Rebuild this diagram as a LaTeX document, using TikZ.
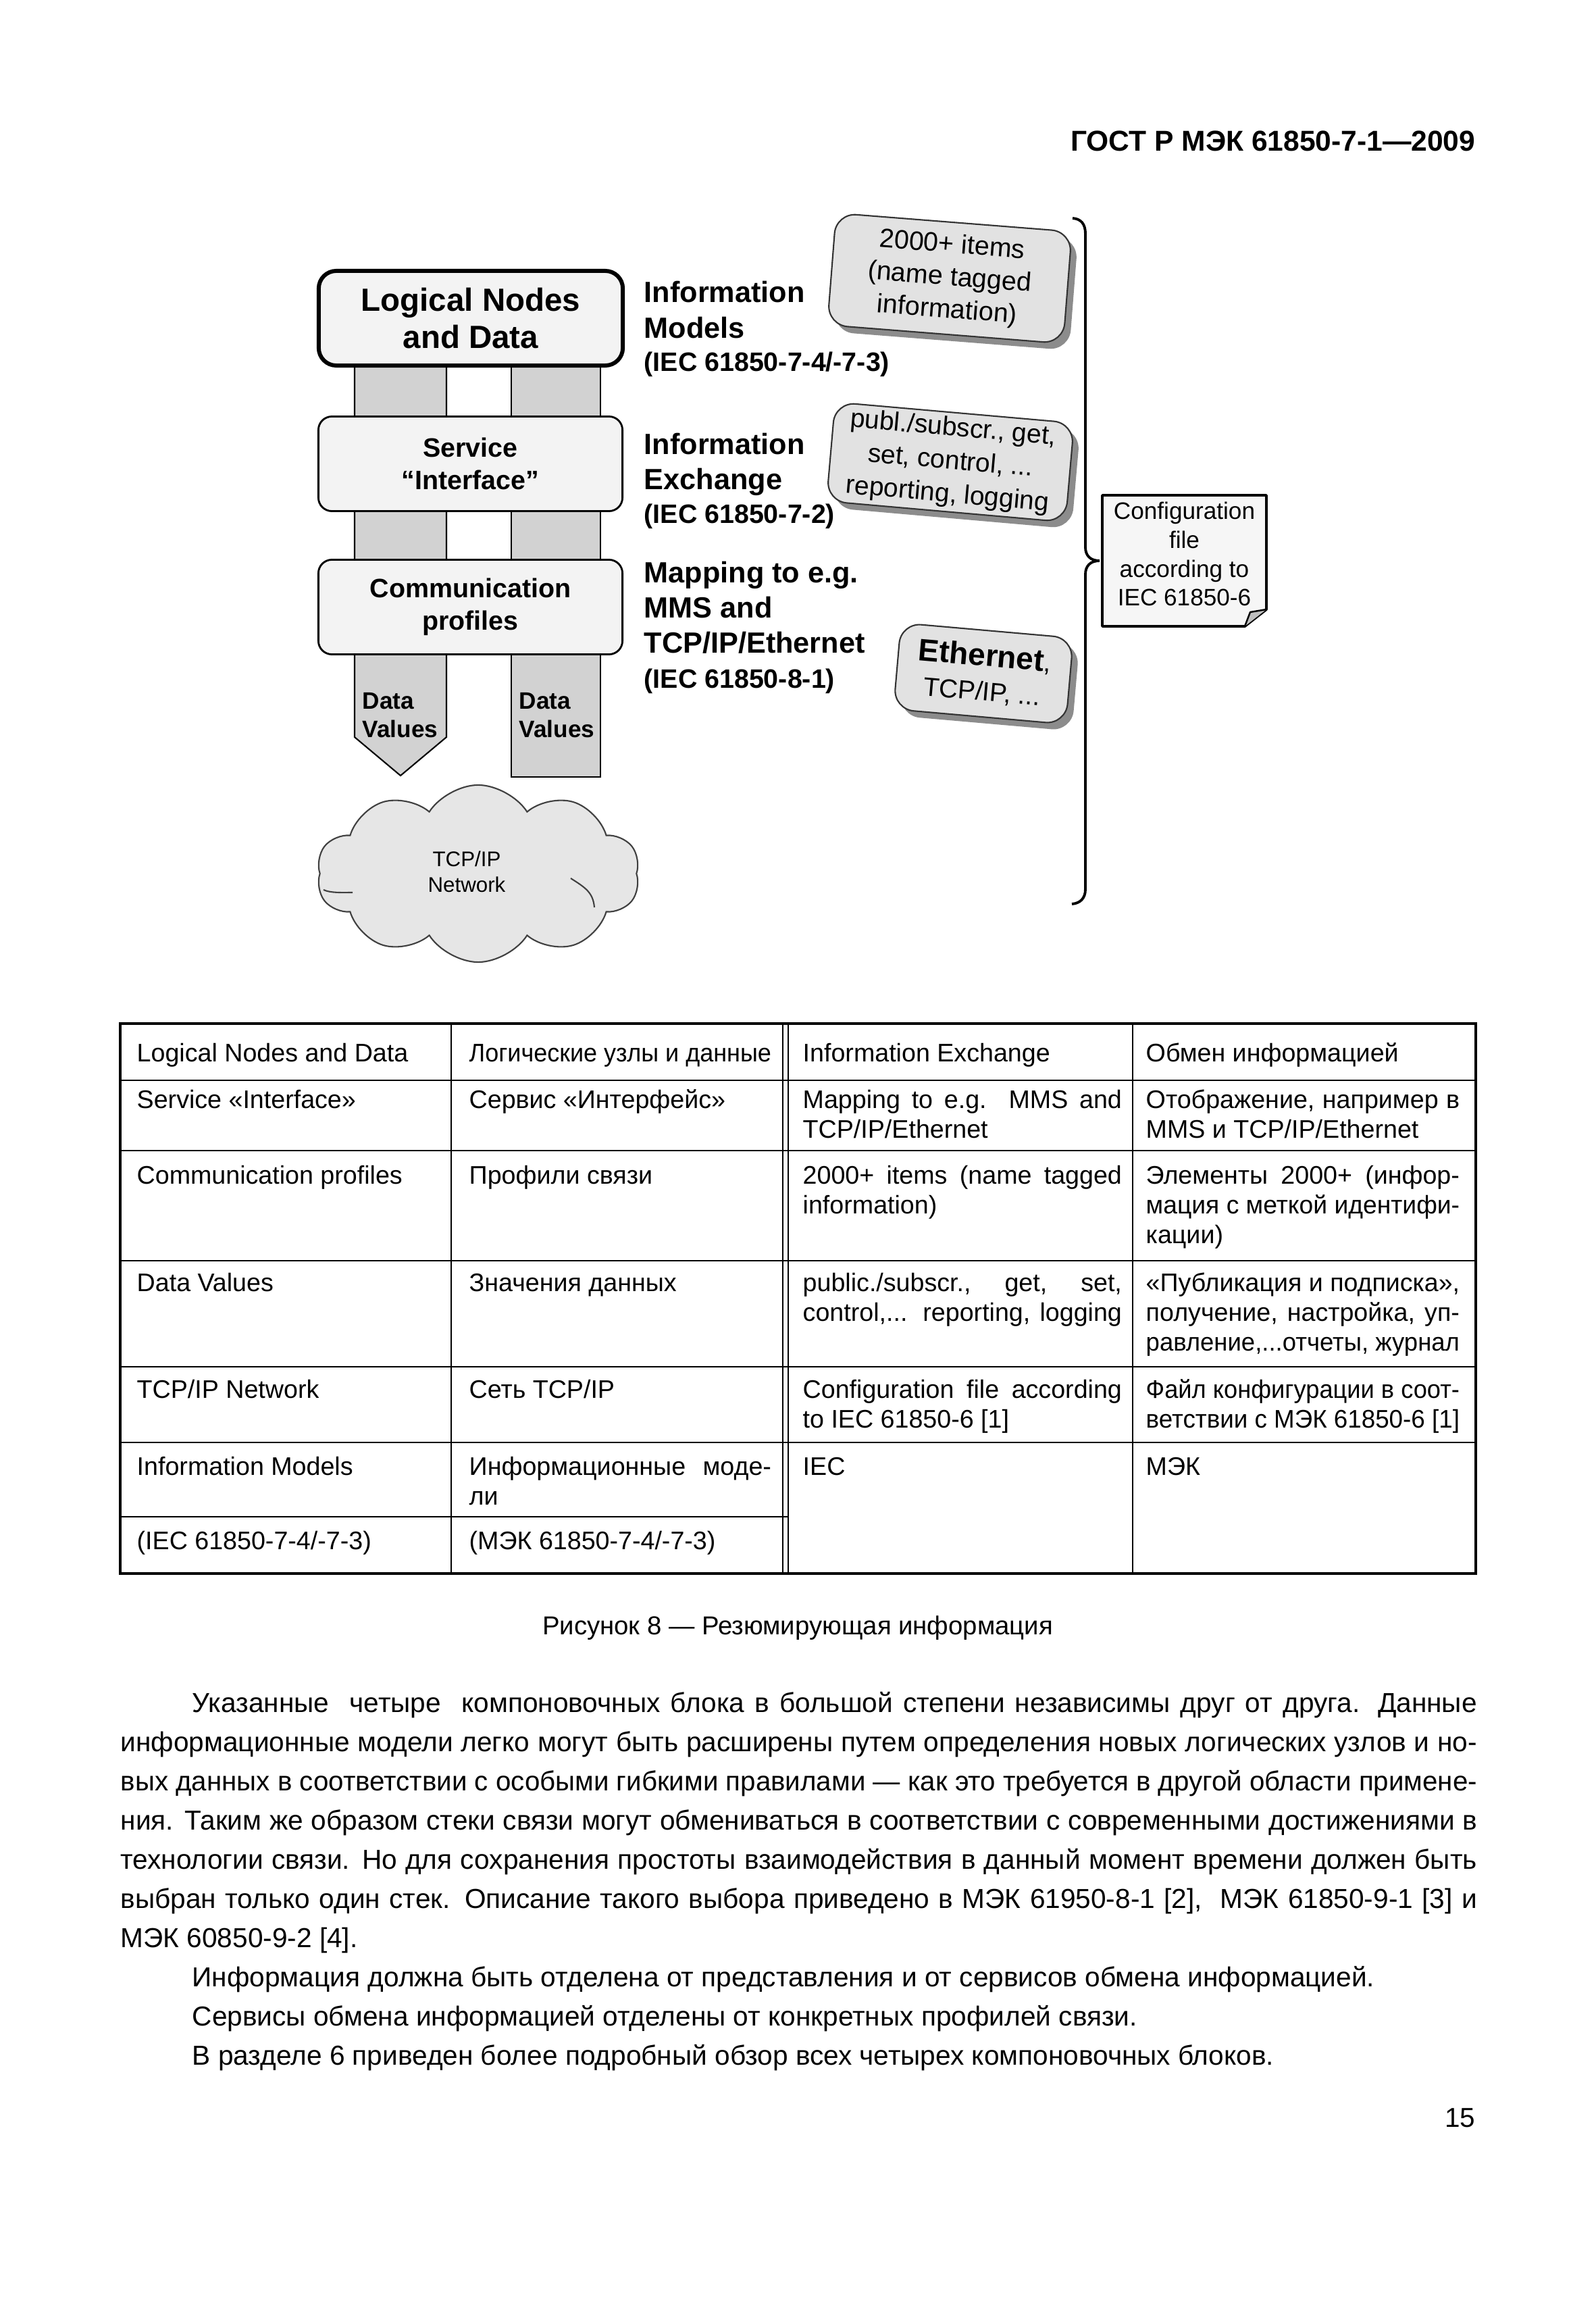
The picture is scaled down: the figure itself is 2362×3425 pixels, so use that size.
\documentclass[tikz,border=0pt]{standalone}
\usepackage{fontspec}
\usepackage{graphicx}
\setmainfont{Liberation Sans}
\usetikzlibrary{shapes.symbols,shadows,calc}

\definecolor{barc}{HTML}{D2D2D2}
\definecolor{boxc}{HTML}{F3F3F3}
\definecolor{tiltc}{HTML}{E2E2E2}
\definecolor{cloudc}{HTML}{E6E6E6}
\definecolor{cfgc}{HTML}{F6F6F6}
\definecolor{foldc}{HTML}{BEBEBE}

\newcommand{\fs}[2]{\fontsize{#1pt}{#2pt}\selectfont}
\newsavebox{\jlbox}
\newcommand{\jlw}[2]{\sbox{\jlbox}{#2}\ifdim\wd\jlbox>#1\relax\resizebox{#1}{\height}{\usebox{\jlbox}}\else\makebox[#1][s]{#2}\fi}
\newcommand{\jl}[1]{\jlw{\linewidth}{#1}}
\newcommand{\fitl}[1]{\sbox{\jlbox}{#1}\ifdim\wd\jlbox>\linewidth\relax\resizebox{\linewidth}{\height}{\usebox{\jlbox}}\else\usebox{\jlbox}\fi}

\begin{document}
\begin{tikzpicture}[x=0.01cm,y=-0.01cm,
  bar/.style={fill=barc,draw=black,line width=0.6pt},
  layer/.style={draw=black,line width=0.8pt,fill=boxc,rounded corners=0.2cm,minimum width=4.5cm,minimum height=1.4cm,align=center,inner sep=0pt,font=\bfseries\fs{11.2}{13.7}},
  tilted/.style={draw=black!80,line width=0.6pt,fill=tiltc,rounded corners=0.3cm,align=center,inner sep=1.5pt,drop shadow={shadow xshift=0.09cm,shadow yshift=-0.1cm,fill=black!45,opacity=1}},
  lbl/.style={anchor=base west,inner sep=0pt},
  cell/.style={anchor=base west,inner sep=0pt,font=\fs{10.7}{12.6}},
  tline/.style={line width=0.6pt},
  txt/.style={inner sep=0pt}
]
\fill[white] (0,0) rectangle (2362,3425);
\useasboundingbox (0,0) rectangle (2362,3425);

% header
\node[txt,anchor=base east,font=\bfseries\fs{12.1}{14}] (hdr) at (2185,224) {ГОСТ Р МЭК 61850-7-1—2009};

% bars
\draw[bar] (525,540) -- (661,540) -- (661,1091) -- (593,1148) -- (525,1091) -- cycle;
\draw[bar] (757,540) rectangle (889,1150);

% layers
\node[layer,line width=1.7pt,rounded corners=0.26cm,font=\bfseries\fs{13.5}{15.9}] (ln) at (697,471) {Logical Nodes\\and Data};
\node[layer] (si) at (696.5,686.5) {Service\\“Interface”};
\node[layer] (cp) at (696.5,898.5) {Communication\\profiles};

\node[lbl,font=\bfseries\fs{10}{12.2}] (dv1) at (536,1049) {\parbox[t]{3cm}{Data\\Values}};
\node[lbl,font=\bfseries\fs{10}{12.2}] (dv2) at (768,1049) {\parbox[t]{3cm}{Data\\Values}};

% tilted boxes
\node[tilted,rotate=-4.5,minimum width=3.5cm,minimum height=1.66cm,font=\fs{11.2}{13.7}] (items) at (1406,412) {2000+ items\\(name tagged\\information)};
\node[tilted,rotate=-5,minimum width=3.55cm,minimum height=1.47cm,font=\fs{11.1}{14}] (svc) at (1407,684) {publ./subscr., get,\\set, control, ...\\reporting, logging};
\node[tilted,rotate=-5,minimum width=2.56cm,minimum height=1.28cm,font=\fs{11}{14.5}] (eth) at (1456,997) {{\bfseries\fs{13.1}{14.5}Ethernet},\\TCP/IP, ...};

% labels
\node[lbl] (lim) at (953,448) {\parbox[t]{7cm}{\bfseries\fs{12.3}{14.8}Information\\Models\par\fs{11.2}{14.2}(IEC 61850-7-4/-7-3)}};
\node[lbl] (lie) at (953,673) {\parbox[t]{7cm}{\bfseries\fs{12.3}{14.6}Information\\Exchange\par\fs{11.2}{14.2}(IEC 61850-7-2)}};
\node[lbl] (lmap) at (953,863) {\parbox[t]{7cm}{\bfseries\fs{12.3}{14.7}Mapping to e.g.\\MMS and\\TCP/IP/Ethernet\par\fs{11.2}{14.8}(IEC 61850-8-1)}};

% cloud
\node[cloud,cloud puffs=10,cloud puff arc=115,cloud ignores aspect,minimum width=4.78cm,minimum height=2.62cm,draw=black!75,line width=0.6pt,fill=cloudc,inner sep=0pt] (net) at (708,1293) {};
\draw[black!75,line width=0.6pt] ($(net.center)+(137,7)$) .. controls +(22,14) and +(-2,-22) .. ($(net.center)+(172,50)$);
\draw[black!75,line width=0.6pt] ($(net.center)+(-229,24)$) .. controls +(10,5) and +(-14,0) .. ($(net.center)+(-186,28)$);
\node[txt,align=center,font=\fs{8.9}{10.8}] (nett) at ($(net.center)+(-17,-3)$) {TCP/IP\\Network};

% configuration file
\coordinate (cNW) at (1632,733);
\coordinate (cNE) at (1875,733);
\coordinate (cF1) at (1875,902);
\coordinate (cF2) at (1843,927);
\coordinate (cSW) at (1632,927);
\coordinate (cF3) at (1851,906);
\draw[line width=1.1pt,fill=cfgc,line join=round] (cNW) -- (cNE) -- (cF1) -- (cF2) -- (cSW) -- cycle;
\draw[line width=0.7pt,fill=foldc,line join=round] (cF1) -- (cF3) -- (cF2);
\node[txt,align=center,font=\fs{10}{12.2}] (cfg) at (1753.5,820) {Configuration\\file\\according to\\IEC 61850-6};

% brace
\coordinate (btip) at ($(cNW)!0.5!(cSW)+(-4,0)$);
\draw[line width=1.1pt] (1588,323) .. controls (1601,324) and (1607,332) .. (1607,346)
  -- (1607,810) .. controls (1607,822) and (1614,830) .. (btip)
  .. controls (1614,830) and (1607,838) .. (1607,850)
  -- (1607,1316) .. controls (1607,1330) and (1599,1337) .. (1587,1338);

% table
\draw[line width=0.9pt] (178,1515) rectangle (2185,2329);
\foreach \x in {668,1159,1167,1677} \draw[tline] (\x,1515) -- (\x,2329);
\foreach \y in {1599,1703,1866,2023,2135} \draw[tline] (178,\y) -- (2185,\y);
\draw[tline] (178,2245) -- (1167,2245);

\node[cell] (a1) at (202,1571) {\parbox[t]{4.46cm}{Logical Nodes and Data}};
\node[cell] (b1) at (694,1571) {\parbox[t]{4.47cm}{\fitl{Логические узлы и данные}}};
\node[cell] (c1) at (1188,1571) {\parbox[t]{4.72cm}{Information Exchange}};
\node[cell] (d1) at (1696,1571) {\parbox[t]{4.64cm}{Обмен информацией}};

\node[cell] (a2) at (202,1640) {\parbox[t]{4.46cm}{Service «Interface»}};
\node[cell] (b2) at (694,1640) {\parbox[t]{4.47cm}{Сервис «Интерфейс»}};
\node[cell] (c2) at (1188,1640) {\parbox[t]{4.72cm}{\jl{Mapping to e.g. MMS and}\\TCP/IP/Ethernet}};
\node[cell] (d2) at (1696,1640) {\parbox[t]{4.64cm}{\jl{Отображение, например в}\\MMS и TCP/IP/Ethernet}};

\node[cell] (a3) at (202,1752) {\parbox[t]{4.46cm}{Communication profiles}};
\node[cell] (b3) at (694,1752) {\parbox[t]{4.47cm}{Профили связи}};
\node[cell] (c3) at (1188,1752) {\parbox[t]{4.72cm}{\jl{2000+ items (name tagged}\\information)}};
\node[cell] (d3) at (1696,1752) {\parbox[t]{4.64cm}{\jl{Элементы 2000+ (инфор-}\\\jl{мация с меткой идентифи-}\\кации)}};

\node[cell] (a4) at (202,1911) {\parbox[t]{4.46cm}{Data Values}};
\node[cell] (b4) at (694,1911) {\parbox[t]{4.47cm}{Значения данных}};
\node[cell] (c4) at (1188,1911) {\parbox[t]{4.72cm}{\jl{public./subscr., get, set,}\\\jl{control,... reporting, logging}}};
\node[cell] (d4) at (1696,1911) {\parbox[t]{4.64cm}{\jl{«Публикация и подписка»,}\\\jl{получение, настройка, уп-}\\\jl{равление,...отчеты, журнал}}};

\node[cell] (a5) at (202,2069) {\parbox[t]{4.46cm}{TCP/IP Network}};
\node[cell] (b5) at (694,2069) {\parbox[t]{4.47cm}{Сеть TCP/IP}};
\node[cell] (c5) at (1188,2069) {\parbox[t]{4.72cm}{\jl{Configuration file according}\\to IEC 61850-6 [1]}};
\node[cell] (d5) at (1696,2069) {\parbox[t]{4.64cm}{\jl{Файл конфигурации в соот-}\\\jl{ветствии с МЭК 61850-6 [1]}}};

\node[cell] (a6) at (202,2183) {\parbox[t]{4.46cm}{Information Models}};
\node[cell] (b6) at (694,2183) {\parbox[t]{4.47cm}{\jl{Информационные моде-}\\ли}};
\node[cell] (c6) at (1188,2183) {\parbox[t]{4.72cm}{IEC}};
\node[cell] (d6) at (1696,2183) {\parbox[t]{4.64cm}{МЭК}};

\node[cell] (a7) at (202,2293) {\parbox[t]{4.46cm}{(IEC 61850-7-4/-7-3)}};
\node[cell] (b7) at (694,2293) {\parbox[t]{4.47cm}{(МЭК 61850-7-4/-7-3)}};

% caption
\node[txt,anchor=base,font=\fs{10.9}{13}] (cap) at (1181,2419) {Рисунок 8 — Резюмирующая информация};

% body text
\node[lbl,font=\fs{11.55}{16.5}] (body) at (178,2534) {\parbox[t]{20.07cm}{%
\hspace*{1.06cm}\jlw{19.01cm}{Указанные\ \ четыре\ \ компоновочных блока в большой степени независимы друг от друга. Данные}\\
\jl{информационные модели легко могут быть расширены путем определения новых логических узлов и но-}\\
\jl{вых данных в соответствии с особыми гибкими правилами — как это требуется в другой области примене-}\\
\jl{ния. Таким же образом стеки связи могут обмениваться в соответствии с современными достижениями в}\\
\jl{технологии связи. Но для сохранения простоты взаимодействия в данный момент времени должен быть}\\
\jl{выбран только один стек. Описание такого выбора приведено в МЭК 61950-8-1 [2],\ \ МЭК 61850-9-1 [3] и}\\
МЭК 60850-9-2 [4].\\
\hspace*{1.06cm}Информация должна быть отделена от представления и от сервисов обмена информацией.\\
\hspace*{1.06cm}Сервисы обмена информацией отделены от конкретных профилей связи.\\
\hspace*{1.06cm}В разделе 6 приведен более подробный обзор всех четырех компоновочных блоков.}};

% page number
\node[txt,anchor=base east,font=\fs{11.5}{14}] (pg) at (2185,3148) {15};
\end{tikzpicture}
\end{document}
